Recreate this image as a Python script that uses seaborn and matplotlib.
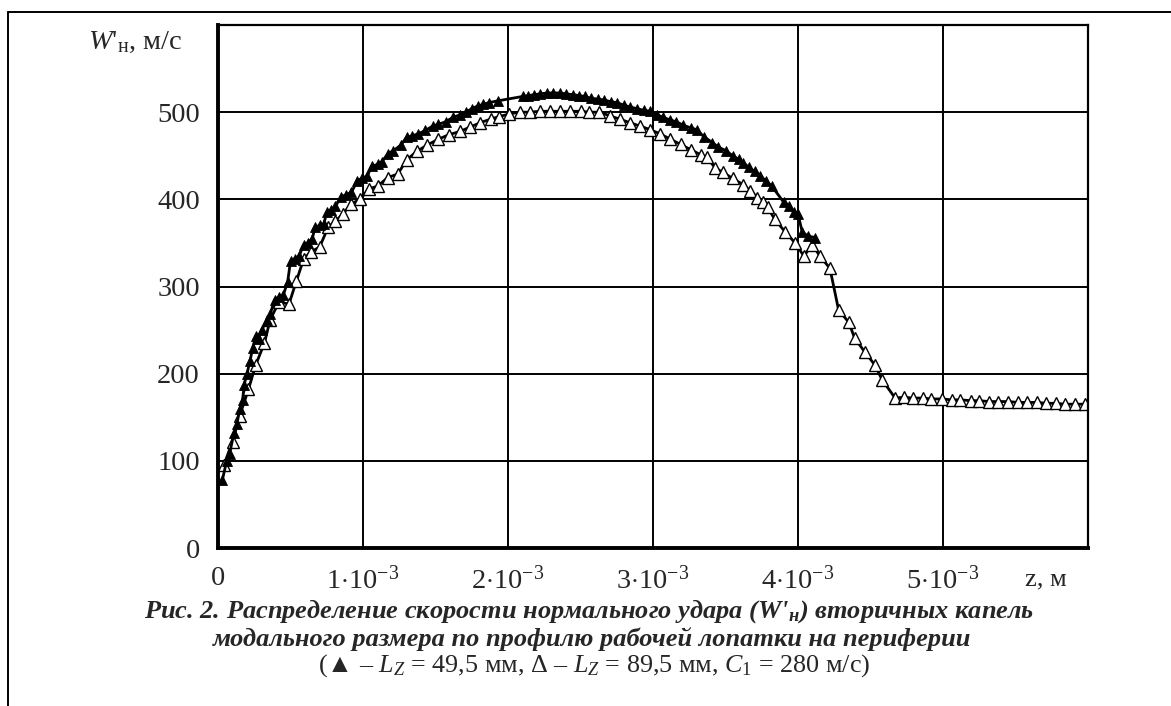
import numpy as np
import pandas as pd
import matplotlib
matplotlib.use('Agg')
import matplotlib.pyplot as plt
import seaborn as sns
from matplotlib.lines import Line2D

# series 1: filled triangles (L_Z = 49,5 mm), z in 1e-3 m, W in m/s
z1 = [0.03, 0.06, 0.08, 0.11, 0.13, 0.15, 0.17, 0.18, 0.20, 0.22, 0.24, 0.26, 0.28, 0.30,
      0.34, 0.36, 0.39, 0.42, 0.45, 0.48, 0.50, 0.53, 0.56, 0.59, 0.62, 0.65, 0.67, 0.70,
      0.73, 0.75, 0.78, 0.81, 0.85, 0.88, 0.92, 0.96, 0.99, 1.03, 1.06, 1.10, 1.13, 1.17,
      1.21, 1.26, 1.30, 1.34, 1.38, 1.43, 1.48, 1.52, 1.57, 1.62, 1.67, 1.71, 1.75, 1.79,
      1.83, 1.87, 1.93, 2.10, 2.14, 2.18, 2.22, 2.27, 2.31, 2.36, 2.40, 2.45, 2.49, 2.53,
      2.57, 2.62, 2.66, 2.71, 2.75, 2.80, 2.84, 2.89, 2.94, 2.98, 3.03, 3.07, 3.12, 3.16,
      3.21, 3.26, 3.30, 3.35, 3.41, 3.45, 3.50, 3.55, 3.59, 3.62, 3.66, 3.70, 3.74, 3.78,
      3.82, 3.90, 3.94, 3.97, 4.00, 4.03, 4.07, 4.12]
w1 = [78, 100, 108, 132, 142, 159, 170, 187, 200, 214, 230, 243, 240, 250,
      262, 268, 285, 288, 290, 305, 329, 332, 335, 348, 350, 355, 368, 370,
      372, 385, 388, 392, 403, 405, 408, 421, 424, 427, 438, 440, 443, 452,
      456, 462, 471, 473, 475, 479, 484, 486, 489, 494, 497, 500, 504, 507,
      509, 511, 513, 518, 519, 520, 521, 522, 522, 522, 521, 520, 519, 518,
      516, 515, 514, 512, 511, 508, 506, 504, 502, 501, 497, 494, 491, 489,
      485, 482, 480, 472, 465, 460, 456, 450, 446, 442, 437, 432, 427, 421,
      415, 397, 392, 386, 383, 362, 358, 356]

# series 2: open triangles (L_Z = 89,5 mm)
z2 = [0.04, 0.10, 0.15, 0.21, 0.26, 0.32, 0.36, 0.42, 0.49, 0.54, 0.59, 0.64, 0.70, 0.76,
      0.81, 0.86, 0.92, 0.98, 1.04, 1.10, 1.17, 1.24, 1.30, 1.37, 1.44, 1.52, 1.59, 1.67,
      1.74, 1.81, 1.88, 1.94, 2.01, 2.08, 2.15, 2.22, 2.29, 2.36, 2.43, 2.50, 2.56, 2.63,
      2.70, 2.77, 2.84, 2.91, 2.98, 3.05, 3.12, 3.19, 3.26, 3.33, 3.37, 3.43, 3.48, 3.55,
      3.62, 3.67, 3.72, 3.76, 3.79, 3.84, 3.91, 3.98, 4.04, 4.10, 4.15, 4.22, 4.28, 4.35,
      4.39, 4.46, 4.53, 4.58, 4.67, 4.73, 4.79, 4.86, 4.92, 4.99, 5.06, 5.12, 5.19, 5.25,
      5.32, 5.38, 5.45, 5.52, 5.58, 5.65, 5.71, 5.78, 5.84, 5.91, 5.98]
w2 = [95, 122, 152, 182, 210, 235, 262, 282, 280, 306, 331, 340, 345, 368,
      375, 383, 395, 400, 412, 415, 425, 429, 445, 455, 462, 469, 474, 478,
      483, 488, 492, 495, 498, 500, 500, 501, 501, 501, 501, 501, 500, 500,
      496, 492, 488, 484, 480, 475, 469, 463, 457, 451, 448, 436, 431, 424,
      417, 410, 402, 397, 391, 377, 363, 350, 335, 348, 335, 321, 273, 259,
      241, 225, 210, 193, 172, 173, 172, 172, 171, 171, 170, 170, 169, 169,
      168, 168, 168, 167, 167, 167, 166, 166, 165, 165, 165]

x_ticks = [0, 1, 2, 3, 4, 5]
x_labels = ['0'] + [r'$%d{\cdot}10^{-3}$' % k for k in x_ticks[1:]]
y_ticks = [0, 100, 200, 300, 400, 500]

sns.set_style('white')
plt.rcParams['font.family'] = ['Liberation Serif', 'DejaVu Serif']
plt.rcParams['mathtext.fontset'] = 'custom'
plt.rcParams['mathtext.rm'] = 'Liberation Serif'
plt.rcParams['mathtext.it'] = 'Liberation Serif:italic'
plt.rcParams['mathtext.bf'] = 'Liberation Serif:bold'
plt.rcParams['mathtext.bfit'] = 'Liberation Serif:bold:italic'

fig = plt.figure(figsize=(11.71, 7.06), dpi=100)
ax = fig.add_axes([218 / 1171, 1 - 548 / 706, (1088 - 218) / 1171, (548 - 25) / 706])

df1 = pd.DataFrame({'z': np.array(z1) * 1e-3, 'W': w1})
df2 = pd.DataFrame({'z': np.array(z2) * 1e-3, 'W': w2})

sns.lineplot(data=df1, x='z', y='W', ax=ax, sort=False, color='black', lw=2.0,
             marker='^', markersize=7.5, markerfacecolor='black', markeredgecolor='black',
             markeredgewidth=0.6, zorder=4)
sns.lineplot(data=df2, x='z', y='W', ax=ax, sort=False, color='black', lw=2.0,
             marker='^', markersize=8.5, markerfacecolor='white', markeredgecolor='black',
             markeredgewidth=1.0, zorder=3)

ax.set_xlim(0, 6e-3)
ax.set_ylim(0, 600)
ax.set_xticks([k * 1e-3 for k in x_ticks])
ax.set_xticklabels(x_labels)
ax.set_yticks(y_ticks)
ax.set_xticks([6e-3], minor=True)
ax.set_yticks([600], minor=True)
ax.grid(True, which='both', color='black', lw=1.4)
ax.tick_params(axis='both', length=0, labelsize=20.5)
ax.tick_params(axis='x', pad=13)
ax.tick_params(axis='y', pad=13)
ax.set_xlabel('')
ax.set_ylabel('')
for side in ['left', 'bottom']:
    ax.spines[side].set_linewidth(2.8)
for side in ['top', 'right']:
    ax.spines[side].set_linewidth(1.6)
for s in ax.spines.values():
    s.set_color('black')
    s.set_zorder(5)

# axis captions
fig.text(135 / 1171, 1 - 42 / 706, r"$W$'$_{\rm н}$, м/с", fontsize=20.5, ha='center', va='center')
fig.text(1046 / 1171, 1 - 579 / 706, 'z, м', fontsize=19, ha='center', va='center')

# figure caption
fig.text(589 / 1171, 1 - 611 / 706,
         r"Рис. 2. Распределение скорости нормального удара (W'$_{\mathbfit{н}}$) вторичных капель",
         fontsize=19, fontweight='bold', fontstyle='italic', ha='center', va='center')
fig.text(592 / 1171, 1 - 639 / 706,
         'модального размера по профилю рабочей лопатки на периферии',
         fontsize=19, fontweight='bold', fontstyle='italic', ha='center', va='center')
fig.text(594 / 1171, 1 - 666 / 706,
         r"(▲ – $L_Z$ = 49,5 мм, Δ – $L_Z$ = 89,5 мм, $C_1$ = 280 м/с)",
         fontsize=18.8, ha='center', va='center')

# outer frame
fig.add_artist(Line2D([8 / 1171, 8 / 1171], [0, 1 - 12 / 706], color='black', lw=1.4,
                      transform=fig.transFigure))
fig.add_artist(Line2D([8 / 1171, 1], [1 - 12 / 706, 1 - 12 / 706], color='black', lw=1.4,
                      transform=fig.transFigure))

fig.savefig('out.png', dpi=100)
